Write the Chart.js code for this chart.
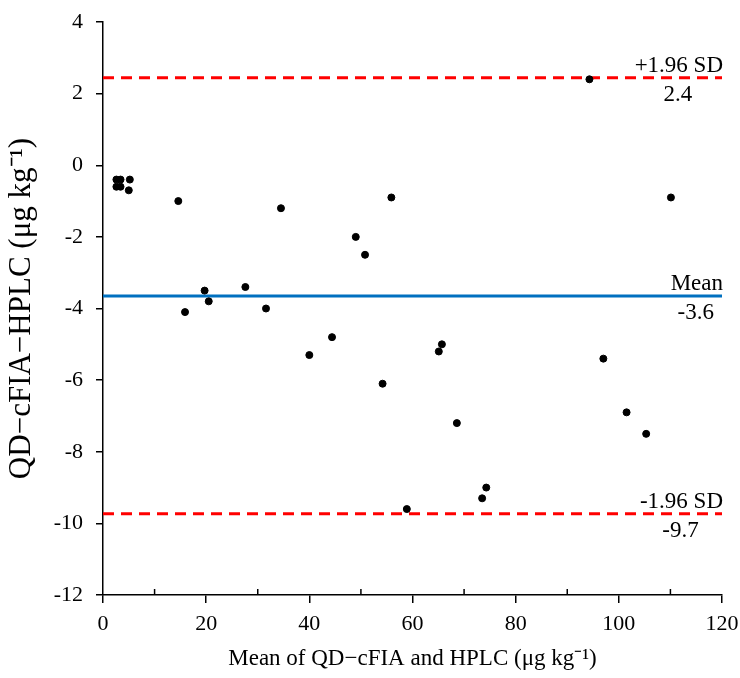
<!DOCTYPE html>
<html>
<head>
<meta charset="utf-8">
<script src="https://cdn.jsdelivr.net/npm/chart.js@4.4.1/dist/chart.umd.min.js"></script>
<style>
    html, body { margin: 0; padding: 0; background: #fff; }
</style>
</head>
<body>
<canvas id="baChart" width="740" height="678"></canvas>
<script>
// Bland-Altman data: mean of both methods (x) and difference QD-cFIA minus HPLC (y)
var meanOfMethods = [2.6, 3.4, 2.6, 3.4, 5.2, 5.0, 14.6, 15.9, 19.7, 20.5, 27.6, 31.6, 34.5, 40.0, 44.4,
    49.0, 50.8, 54.2, 55.9, 58.9, 65.1, 65.7, 68.6, 73.5, 74.3, 94.3, 97.0, 101.5, 105.3, 110.1];
var differences = [-0.4, -0.4, -0.6, -0.6, -0.4, -0.7, -1.0, -4.1, -3.5, -3.8, -3.4, -4.0, -1.2, -5.3, -4.8,
    -2.0, -2.5, -6.1, -0.9, -9.6, -5.2, -5.0, -7.2, -9.3, -9.0, 2.4, -5.4, -6.9, -7.5, -0.9];

var limitNames = ['+1.96 SD', 'Mean', '-1.96 SD'];
var limitValues = [2.44, -3.65, -9.73];
var limitLabels = ['2.4', '-3.6', '-9.7'];
var limitColors = ['#ff0000', '#0070c0', '#ff0000'];
var limitDashed = [true, false, true];

var xRange = [0, 120];
var xStep = 20;
var xMinorTicks = [10, 30, 50, 70, 90, 110];
var yRange = [-12, 4];
var yStep = 2;

var serif = '"Liberation Serif", "Times New Roman", serif';

var points = meanOfMethods.map(function(m, i) { return { x: m, y: differences[i] }; });

var datasets = [{
    type: 'scatter',
    data: points,
    backgroundColor: '#000',
    borderColor: '#000',
    pointRadius: 3.5,
    pointHoverRadius: 3.5
}];
for (var i = 0; i < limitValues.length; i++) {
    datasets.push({
        type: 'line',
        data: [{ x: xRange[0], y: limitValues[i] }, { x: xRange[1], y: limitValues[i] }],
        borderColor: limitColors[i],
        borderWidth: 3,
        borderDash: limitDashed[i] ? [11, 7] : [],
        pointRadius: 0,
        fill: false
    });
}

var refLabels = {
    id: 'refLabels',
    afterDatasetsDraw: function(chart) {
        var ctx = chart.ctx;
        var xs = chart.scales.x, ys = chart.scales.y;
        ctx.save();
        ctx.font = '23px ' + serif;
        ctx.fillStyle = '#000';
        ctx.textBaseline = 'alphabetic';
        for (var i = 0; i < limitValues.length; i++) {
            var yPix = ys.getPixelForValue(limitValues[i]);
            var w = ctx.measureText(limitNames[i]).width;
            ctx.textAlign = 'right';
            ctx.fillText(limitNames[i], xs.right + 1, yPix - 6);
            ctx.textAlign = 'center';
            ctx.fillText(limitLabels[i], xs.right - w / 2, yPix + 23);
        }
        // minor ticks on the x axis point inward
        ctx.strokeStyle = '#000';
        ctx.lineWidth = 1.5;
        xMinorTicks.forEach(function(v) {
            var px = xs.getPixelForValue(v);
            ctx.beginPath();
            ctx.moveTo(px, xs.top);
            ctx.lineTo(px, xs.top - 6);
            ctx.stroke();
        });
        ctx.restore();
    }
};

var ctx = document.getElementById('baChart').getContext('2d');
var baChart = new Chart(ctx, {
    type: 'scatter',
    data: { datasets: datasets },
    options: {
        responsive: false,
        animation: false,
        devicePixelRatio: 1,
        layout: { padding: { top: 22, right: 18, left: 0, bottom: 0 } },
        plugins: {
            legend: { display: false },
            tooltip: { enabled: false }
        },
        scales: {
            x: {
                type: 'linear',
                min: xRange[0],
                max: xRange[1],
                afterFit: function(scale) {
                    scale.height = 83;
                    scale.paddingLeft = 0;
                    scale.paddingRight = 0;
                },
                border: { color: '#000', width: 1.5 },
                grid: { drawOnChartArea: false, drawTicks: true, tickLength: 8, color: '#000', lineWidth: 1.5 },
                ticks: { stepSize: xStep, color: '#000', padding: 8, font: { family: serif, size: 22 } },
                title: {
                    display: true,
                    text: 'Mean of QD\u2212cFIA and HPLC (\u03bcg kg\u207b\u00b9)',
                    color: '#000',
                    font: { family: serif, size: 23 },
                    padding: { top: 0, bottom: 5 }
                }
            },
            y: {
                type: 'linear',
                min: yRange[0],
                max: yRange[1],
                afterFit: function(scale) {
                    scale.width = 103;
                    scale.paddingTop = 0;
                    scale.paddingBottom = 0;
                },
                border: { color: '#000', width: 1.5 },
                grid: { drawOnChartArea: false, drawTicks: true, tickLength: 7, color: '#000', lineWidth: 1.5 },
                ticks: { stepSize: yStep, color: '#000', padding: 13, font: { family: serif, size: 22 } },
                title: {
                    display: true,
                    text: 'QD\u2212cFIA\u2212HPLC (\u03bcg kg\u207b\u00b9)',
                    color: '#000',
                    font: { family: serif, size: 31 },
                    padding: { top: 3, bottom: 0 }
                }
            }
        }
    },
    plugins: [refLabels]
});
</script>
</body>
</html>
